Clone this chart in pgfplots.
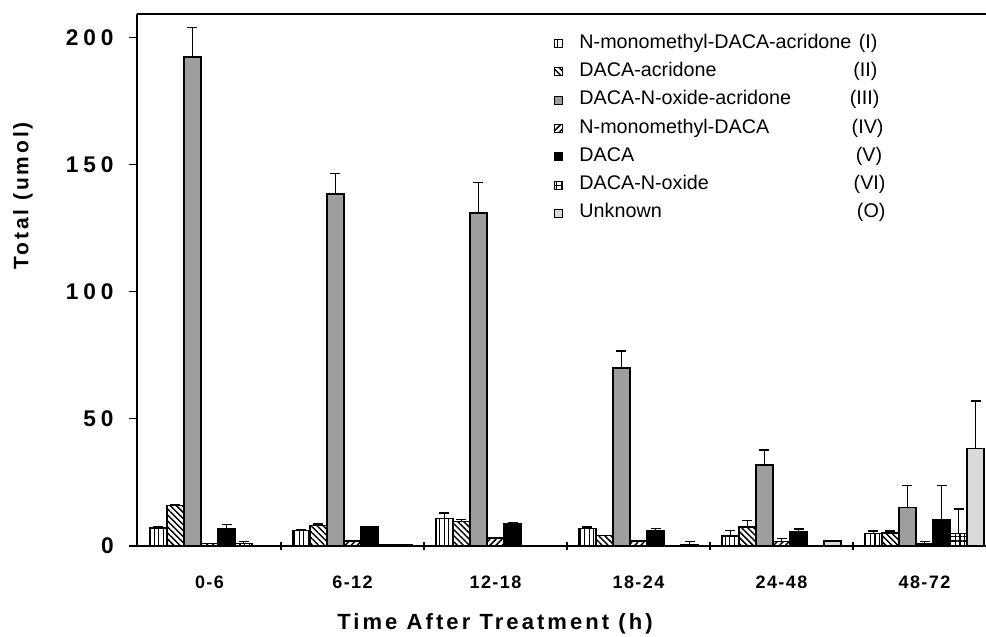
\documentclass[border=0pt]{standalone}
\usepackage{fontspec}
\setmainfont{Liberation Sans}
\newfontfamily\tickf[LetterSpace=22]{Liberation Sans}
\newfontfamily\xtickf[LetterSpace=8]{Liberation Sans}
\newfontfamily\labf[LetterSpace=14]{Liberation Sans}
\usepackage{pgfplots}
\pgfplotsset{compat=1.18}
\usepackage{pgfplotstable}
\usetikzlibrary{patterns.meta}

\pgfplotstableread{
g  I    eI  II   eII III   eIII IV  eIV V    eV   VI  eVI VII  eVII
0  7.0  0.4 16.0 0.4 192.5 11.5 1.0 0.0 6.7  1.8  1.0 0.8 0.0  0.0
1  6.0  0.3 8.0  0.6 138.6 8.0  2.0 0.0 7.4  0.3  0.3 0.0 0.3  0.0
2  10.8 2.1 9.6  0.8 131.0 12.0 3.1 0.3 8.9  0.3  0.2 0.0 0.2  0.0
3  6.8  0.7 4.1  0.0 70.0  6.8  2.0 0.2 6.0  0.9  0.0 0.0 0.3  1.4
4  3.9  2.1 7.5  2.6 31.8  5.9  1.7 1.3 5.5  1.2  0.0 0.0 2.0  0.0
5  4.9  1.0 5.2  0.7 15.2  8.7  0.8 0.9 10.4 13.5 5.0 9.6 38.4 18.6
}\data

\begin{document}
\begin{tikzpicture}
\begin{axis}[
  name=ax,
  scale only axis,
  width=636.75pt, height=399pt,
  xmin=-0.507, xmax=5.43, ymin=0, ymax=209.4,
  ybar=0pt, bar width=0.119,
  axis x line=bottom, axis y line=left,
  x axis line style={-, line width=1.1pt},
  y axis line style={-, line width=1.1pt},
  ytick={0,50,100,150,200},
  ytick align=outside,
  major tick length=6pt,
  tick style={black, line width=0.8pt},
  xtick={0.5,1.5,2.5,3.5,4.5},
  xticklabels={,,,,},
  xtick align=center,
  extra x ticks={0,1,2,3,4,5},
  extra x tick labels={0-6,6-12,12-18,18-24,24-48,48-72},
  extra x tick style={tick style={draw=none},
     xticklabel style={font=\xtickf\bfseries\fontsize{13.5}{15}\selectfont, yshift=-16pt}},
  /pgf/number format/assume math mode=true,
  yticklabel style={font=\tickf\bfseries\fontsize{17}{19}\selectfont, xshift=-8pt},
  xlabel={Time After Treatment (h)},
  ylabel={Total (umol)},
  xlabel style={font=\labf\bfseries\fontsize{16.5}{18}\selectfont, at={(axis description cs:0.4217,-0.1456)}, anchor=center},
  ylabel style={font=\labf\bfseries\fontsize{15.7}{18}\selectfont, at={(axis description cs:-0.1343,0.658)}, anchor=center},
  legend image code/.code={\draw[#1, line width=0.7pt, draw=black] (0pt,-3pt) rectangle (5.5pt,3pt);},
  legend style={at={(axis description cs:0.4864,0.966)}, anchor=north west, draw=none, fill=none,
     font=\fontsize{14.8}{16}\selectfont, row sep=8.2pt, column sep=12.75pt,
     nodes={inner sep=0pt, text height=10pt, text depth=3pt}},
  legend cell align=left,
  error bars/y dir=plus, error bars/y explicit,
  error bars/error bar style={line width=1.1pt, black},
  error bars/error mark options={rotate=90, mark size=3.75pt, line width=1.1pt, black},
  every axis plot/.append style={draw=black, line width=1.1pt},
  clip=false,
]
\addplot[pattern={Lines[angle=90,distance=3.4pt,line width=0.9pt]}] table[x=g,y=I,y error plus=eI]{\data};
\addlegendentry{\makebox[223.5pt][l]{N-monomethyl-DACA-acridone\hfill(I)}}
\addplot[pattern={Lines[angle=-45,distance=3.2pt,line width=1.1pt]}] table[x=g,y=II,y error plus=eII]{\data};
\addlegendentry{\makebox[223.5pt][l]{DACA-acridone\hfill(II)}}
\addplot[fill=black!38] table[x=g,y=III,y error plus=eIII]{\data};
\addlegendentry{\makebox[225pt][l]{DACA-N-oxide-acridone\hfill(III)}}
\addplot[pattern={Lines[angle=45,distance=3.2pt,line width=1.1pt]}] table[x=g,y=IV,y error plus=eIV]{\data};
\addlegendentry{\makebox[228pt][l]{N-monomethyl-DACA\hfill(IV)}}
\addplot[fill=black] table[x=g,y=V,y error plus=eV]{\data};
\addlegendentry{\makebox[227pt][l]{DACA\hfill(V)}}
\addplot[pattern={Hatch[angle=0,distance=3.6pt,line width=0.8pt]}] table[x=g,y=VI,y error plus=eVI]{\data};
\addlegendentry{\makebox[229.5pt][l]{DACA-N-oxide\hfill(VI)}}
\addplot[fill=black!15] table[x=g,y=VII,y error plus=eVII]{\data};
\addlegendentry{\makebox[229.5pt][l]{Unknown\hfill(O)}}
\draw[line width=1.3pt] (rel axis cs:0,1) -- (rel axis cs:1,1);
\end{axis}
\pgfresetboundingbox
\path ([xshift=-102.75pt, yshift=-68.25pt]ax.south west) rectangle ([yshift=10.5pt]ax.north east);
\end{tikzpicture}
\end{document}
